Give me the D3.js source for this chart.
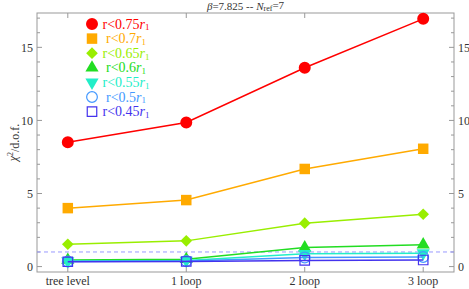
<!DOCTYPE html>
<html>
<head>
<meta charset="utf-8">
<script src="https://cdn.jsdelivr.net/npm/d3@7"></script>
<style>
  body { margin: 0; background: #fff; }
  text { font-family: 'Liberation Serif', 'DejaVu Serif', serif; }
</style>
</head>
<body>
<svg width="469" height="289"></svg>
<script>
// categories on the x axis
const stages = ['tree level', '1 loop', '2 loop', '3 loop']

// chi^2/d.o.f. per cut
const cut075 = [8.5, 9.86, 13.6, 16.95]
const cut070 = [4.0, 4.55, 6.68, 8.06]
const cut065 = [1.53, 1.76, 2.97, 3.58]
const cut060 = [0.45, 0.5, 1.3, 1.5]
const cut055 = [0.38, 0.42, 0.88, 0.92]
const cut050 = [0.35, 0.38, 0.62, 0.66]
const cut045 = [0.33, 0.35, 0.42, 0.45]

const cutLabels = ['0.75', '0.7', '0.65', '0.6', '0.55', '0.5', '0.45']
const yTicks = [0, 5, 10, 15]
const refLine = 1

const series = [
  { label: cutLabels[0], values: cut075, color: '#ff0000', shape: 'circle', filled: true },
  { label: cutLabels[1], values: cut070, color: '#ffaa00', shape: 'square', filled: true },
  { label: cutLabels[2], values: cut065, color: '#99ee00', shape: 'diamond', filled: true },
  { label: cutLabels[3], values: cut060, color: '#22dd22', shape: 'triangle', filled: true },
  { label: cutLabels[4], values: cut055, color: '#22eec8', shape: 'down', filled: true },
  { label: cutLabels[5], values: cut050, color: '#4499ff', shape: 'circle', filled: false },
  { label: cutLabels[6], values: cut045, color: '#4433ee', shape: 'square', filled: false }
]

const svg = d3.select('svg')
const padLeft = 37, padRight = 454, padTop = 13, padBottom = 272

/* scales */
let xScale = d3.scaleLinear()
  .domain([-0.26, 3.26])
  .range([padLeft, padRight])

let yScale = d3.scaleLinear()
  .domain([-0.37, 17.35])
  .range([padBottom, padTop])

const frameColor = '#999'

/* frame */
svg.append('rect')
  .attr('x', padLeft).attr('y', padTop)
  .attr('width', padRight - padLeft).attr('height', padBottom - padTop)
  .attr('fill', 'none').attr('stroke', frameColor).attr('stroke-width', 1)

/* y ticks, minor every unit, both sides, pointing inward */
const minor = d3.range(0, 18)
minor.forEach(v => {
  let len = v % 5 === 0 ? 5 : 3
  let y = yScale(v)
  svg.append('line').attr('x1', padLeft).attr('x2', padLeft + len).attr('y1', y).attr('y2', y)
    .attr('stroke', frameColor)
  svg.append('line').attr('x1', padRight).attr('x2', padRight - len).attr('y1', y).attr('y2', y)
    .attr('stroke', frameColor)
})

yTicks.forEach(v => {
  svg.append('text')
    .attr('x', padLeft - 4).attr('y', yScale(v)).attr('dy', '0.35em')
    .attr('text-anchor', 'end').attr('font-size', 12).attr('fill', '#333')
    .text(v)
  svg.append('text')
    .attr('x', padRight + 4).attr('y', yScale(v)).attr('dy', '0.35em')
    .attr('text-anchor', 'start').attr('font-size', 12).attr('fill', '#333')
    .text(v)
})

/* x ticks and labels */
stages.forEach((s, i) => {
  let x = xScale(i)
  svg.append('line').attr('x1', x).attr('x2', x).attr('y1', padBottom).attr('y2', padBottom - 5)
    .attr('stroke', frameColor)
  svg.append('line').attr('x1', x).attr('x2', x).attr('y1', padTop).attr('y2', padTop + 5)
    .attr('stroke', frameColor)
  svg.append('text')
    .attr('x', x).attr('y', 285)
    .attr('text-anchor', 'middle').attr('font-size', 12).attr('fill', '#333')
    .text(s)
})

/* dashed reference line at chi^2/dof = 1 */
svg.append('line')
  .attr('x1', padLeft).attr('x2', padRight)
  .attr('y1', yScale(refLine)).attr('y2', yScale(refLine))
  .attr('stroke', '#9999ff').attr('stroke-width', 1)
  .attr('stroke-dasharray', '4,3')

/* marker shapes */
function symbolFor(s) {
  if (!s.filled) return d3.symbol(s.shape === 'circle' ? d3.symbolCircle : d3.symbolSquare, 90)
  if (s.shape === 'circle') return d3.symbol(d3.symbolCircle, 113)
  if (s.shape === 'square') return d3.symbol(d3.symbolSquare, 110)
  if (s.shape === 'diamond') return d3.symbol(d3.symbolSquare, 68)
  return d3.symbol(d3.symbolTriangle, 75)
}

function drawMarker(g, s, x, y) {
  let rot = s.shape === 'down' ? ' rotate(180)' : s.shape === 'diamond' ? ' rotate(45)' : ''
  g.append('path')
    .attr('d', symbolFor(s)())
    .attr('transform', `translate(${x},${y})` + rot)
    .attr('fill', s.filled ? s.color : 'none')
    .attr('stroke', s.filled ? 'none' : s.color)
    .attr('stroke-width', 1.2)
}

/* lines + markers */
let line = d3.line()
  .x((d, i) => xScale(i))
  .y(d => yScale(d))

series.forEach(s => {
  let g = svg.append('g')
  g.append('path')
    .attr('d', line(s.values))
    .attr('fill', 'none')
    .attr('stroke', s.color)
    .attr('stroke-width', 1.5)
  s.values.forEach((v, i) => drawMarker(g, s, xScale(i), yScale(v)))
})

/* legend */
series.forEach((s, i) => {
  let y = 24 + i * 14.6
  let g = svg.append('g')
  drawMarker(g, s, 92, y)
  let t = g.append('text')
    .attr('x', 126).attr('y', y).attr('dy', '0.33em')
    .attr('text-anchor', 'middle').attr('font-size', 14)
    .attr('fill', s.color)
  t.append('tspan').text('r<' + s.label)
  t.append('tspan').attr('font-style', 'italic').text('r')
  t.append('tspan').attr('font-size', 9).attr('dy', '0.2em').text('1')
})

/* title */
let title = svg.append('text')
  .attr('x', (padLeft + padRight) / 2).attr('y', 9.5)
  .attr('text-anchor', 'middle').attr('font-size', 11).attr('fill', '#333')
title.append('tspan').attr('font-style', 'italic').text('β')
title.append('tspan').text('=7.825 -- ')
title.append('tspan').attr('font-style', 'italic').text('N')
title.append('tspan').attr('font-size', 8).attr('dy', '0.2em').text('ref')
title.append('tspan').attr('dy', '-0.2em').text('=7')

/* y label */
let ylab = svg.append('text')
  .attr('transform', `translate(17, ${(padTop + padBottom) / 2}) rotate(-90)`)
  .attr('text-anchor', 'middle').attr('font-size', 12).attr('fill', '#333')
ylab.append('tspan').attr('font-style', 'italic').text('χ')
ylab.append('tspan').attr('font-size', 8).attr('dy', '-0.5em').text('2')
ylab.append('tspan').attr('dy', '0.5em').text('/d.o.f.')
</script>
</body>
</html>
